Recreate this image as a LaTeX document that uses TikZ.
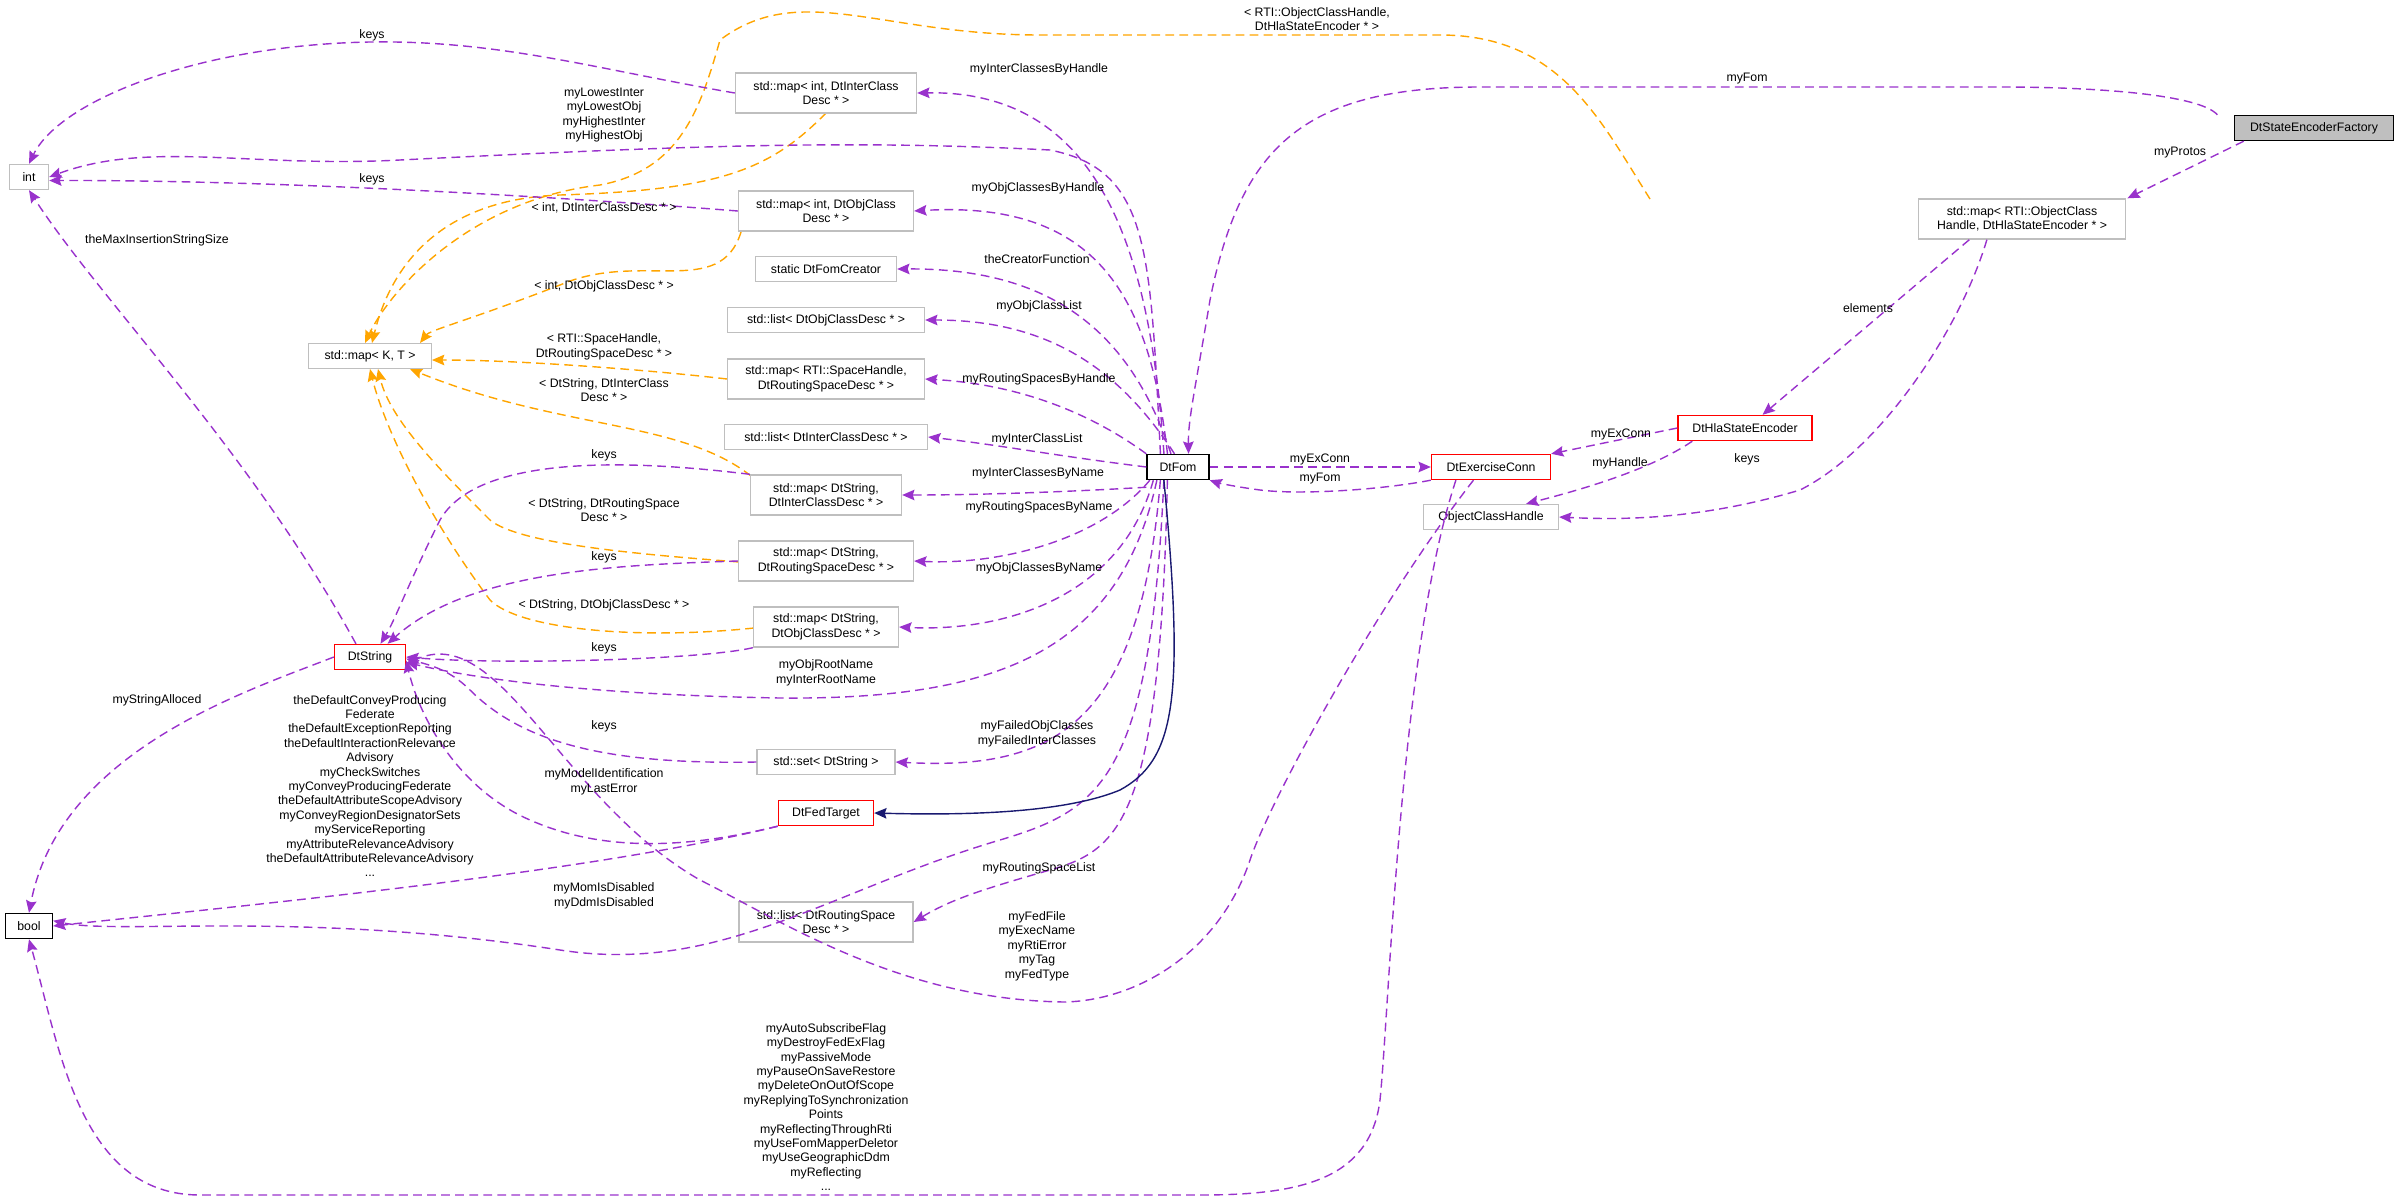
\documentclass[tikz,border=0pt]{standalone}
\usepackage{fontspec}
\setmainfont{Liberation Sans}
\usetikzlibrary{arrows.meta}
\definecolor{pur}{RGB}{153,50,204}
\definecolor{org}{RGB}{255,165,0}
\definecolor{nav}{RGB}{25,25,112}
\definecolor{bx}{RGB}{191,191,191}
\begin{document}
\begin{tikzpicture}[x=0.02cm,y=-0.02cm,
  every node/.style={font=\fontsize{7}{8.2}\selectfont},
  box/.style={draw=bx,line width=0.8pt,fill=white,minimum height=0.5cm,align=center,inner sep=1pt},
  rbox/.style={box,draw=red},
  kbox/.style={box,draw=black},
  lab/.style={align=center,inner sep=0pt},
  ar/.style={-{Stealth[length=7pt,width=6pt,inset=1pt]}},
  pe/.style={ar,draw=pur,line width=0.8pt,dash pattern=on 5pt off 3pt},
  oe/.style={ar,draw=org,line width=0.8pt,dash pattern=on 5pt off 3pt},
  ne/.style={ar,draw=nav,line width=0.8pt}]
\useasboundingbox (0,0) rectangle (2400,1200);
% orange template edges
\draw[oe] (826,113) .. controls (770,170) and (720,190) .. (560,195) .. controls (420,200) and (385,290) .. (372,343);
\draw[oe] (741,232) .. controls (720,300) and (640,250) .. (560,285) .. controls (470,320) and (430,330) .. (420,343);
\draw[oe] (727,379) .. controls (650,370) and (520,360) .. (432,360);
\draw[oe] (751,476) .. controls (680,420) and (560,430) .. (410,369);
\draw[oe] (739,562) .. controls (650,555) and (520,545) .. (490,520) .. controls (440,470) and (390,420) .. (378,369);
\draw[oe] (754,628) .. controls (640,640) and (520,630) .. (490,600) .. controls (430,520) and (385,430) .. (370,369);
\draw[oe] (1650,199) .. controls (1600,120) and (1560,35) .. (1440,35) -- (1040,35) .. controls (880,35) and (800,-20) .. (720,40) .. controls (700,110) and (680,170) .. (600,185) .. controls (470,200) and (390,290) .. (365,343);
% nodes
\node[box,minimum width=0.78cm] (int) at (29,177) {int};
\node[box,minimum width=3.62cm,minimum height=0.8cm] (mih) at (826,93) {std::map< int, DtInterClass\\Desc * >};
\node[box,minimum width=3.5cm,minimum height=0.8cm] (moh) at (826,211) {std::map< int, DtObjClass\\Desc * >};
\node[box,minimum width=2.82cm] (cre) at (826,269) {static DtFomCreator};
\node[box,minimum width=3.94cm] (lo) at (826,320) {std::list< DtObjClassDesc * >};
\node[box,minimum width=3.94cm,minimum height=0.8cm] (mrs) at (826,379) {std::map< RTI::SpaceHandle,\\DtRoutingSpaceDesc * >};
\node[box,minimum width=4.06cm] (li) at (826,437) {std::list< DtInterClassDesc * >};
\node[box,minimum width=3.02cm,minimum height=0.8cm] (msi) at (826,495) {std::map< DtString,\\DtInterClassDesc * >};
\node[box,minimum width=3.5cm,minimum height=0.8cm] (msr) at (826,561) {std::map< DtString,\\DtRoutingSpaceDesc * >};
\node[box,minimum width=2.9cm,minimum height=0.8cm] (mso) at (826,627) {std::map< DtString,\\DtObjClassDesc * >};
\node[box,minimum width=2.46cm] (mkt) at (370,356) {std::map< K, T >};
\node[rbox,minimum width=1.42cm] (str) at (370,657) {DtString};
\node[box,minimum width=2.76cm] (set) at (826,762) {std::set< DtString >};
\node[rbox,minimum width=1.9cm] (fed) at (826,813) {DtFedTarget};
\node[box,minimum width=3.48cm,minimum height=0.8cm] (lr) at (826,922) {std::list< DtRoutingSpace\\Desc * >};
\node[kbox,minimum width=0.94cm] (bool) at (29,926) {bool};
\node[kbox,minimum width=1.24cm] (fom) at (1178,467) {DtFom};
\node[rbox,minimum width=2.38cm] (exc) at (1491,467) {DtExerciseConn};
\node[rbox,minimum width=2.68cm] (hse) at (1745,428) {DtHlaStateEncoder};
\node[box,minimum width=2.7cm] (och) at (1491,517) {ObjectClassHandle};
\node[box,minimum width=4.14cm,minimum height=0.8cm] (moc) at (2022,219) {std::map< RTI::ObjectClass\\Handle, DtHlaStateEncoder * >};
\node[kbox,fill=bx,minimum width=3.18cm] (fac) at (2314,128) {DtStateEncoderFactory};
% purple edges
\draw[pe] (mih.west) .. controls (600,70) and (500,40) .. (370,42) .. controls (200,45) and (60,100) .. (int.north);
\draw[pe] ([xshift=-10pt]fom.north) .. controls (1150,250) and (1150,170) .. (1050,150) .. controls (850,140) and (700,145) .. (400,160) .. controls (250,168) and (150,140) .. (int.east);
\draw[pe] ([xshift=-8pt]fom.north) .. controls (1150,250) and (1100,90) .. (mih.east);
\draw[pe] (moh.west) .. controls (600,200) and (300,180) .. ([yshift=-2pt]int.east);
\draw[pe] ([xshift=-6pt]fom.north) .. controls (1150,300) and (1100,200) .. (moh.east);
\draw[pe] ([xshift=-8pt]str.north) .. controls (250,450) and (100,300) .. (int.south);
\draw[pe] ([xshift=-4pt]fom.north) .. controls (1130,330) and (1050,268) .. (cre.east);
\draw[pe] ([xshift=-2pt]fom.north) .. controls (1120,370) and (1050,320) .. (lo.east);
\draw[pe] (fom.north west) .. controls (1100,420) and (1030,385) .. (mrs.east);
\draw[pe] (fom.west) .. controls (1050,455) and (1000,445) .. (li.east);
\draw[pe] ([yshift=-4pt]fom.south west) .. controls (1100,490) and (1000,495) .. (msi.east);
\draw[pe] ([xshift=2pt]fom.south west) .. controls (1100,540) and (1000,565) .. (msr.east);
\draw[pe] ([xshift=4pt]fom.south west) .. controls (1120,600) and (1000,632) .. (mso.east);
\draw[pe] ([xshift=6pt]fom.south west) .. controls (1120,650) and (1000,700) .. (780,698) .. controls (600,695) and (480,680) .. ([yshift=-3pt]str.east);
\draw[pe] ([xshift=8pt]fom.south west) .. controls (1140,730) and (1050,770) .. (set.east);
\draw[pe] ([xshift=12pt]fom.south west) .. controls (1160,820) and (1120,850) .. (1050,870) .. controls (980,890) and (950,900) .. (lr.east);
\draw[pe] ([xshift=10pt]fom.south west) .. controls (1150,780) and (1100,810) .. (1000,840) .. controls (830,890) and (720,975) .. (560,950) .. controls (300,910) and (120,935) .. ([yshift=3pt]bool.east);
\draw[pe] (msi.north west) .. controls (650,462) and (480,450) .. (440,520) .. controls (410,580) and (395,620) .. ([xshift=6pt]str.north);
\draw[pe] (msr.west) .. controls (620,565) and (470,570) .. ([xshift=10pt]str.north);
\draw[pe] (mso.south west) .. controls (700,660) and (500,665) .. (str.east);
\draw[pe] (set.west) .. controls (600,765) and (520,740) .. (470,690) .. controls (450,670) and (430,665) .. ([yshift=-1pt]str.east);
\draw[pe] (fed.south west) .. controls (720,840) and (620,860) .. (530,820) .. controls (460,790) and (420,720) .. ([yshift=-2pt]str.east);
\draw[pe] (str.west) .. controls (250,690) and (60,750) .. (bool.north);
\draw[pe] (fed.south west) .. controls (600,870) and (300,900) .. (bool.east);
\draw[pe] ([xshift=-10pt]exc.south) .. controls (1380,600) and (1270,800) .. (1250,860) .. controls (1220,950) and (1140,1000) .. (1065,1002) .. controls (900,1000) and (780,920) .. (700,880) .. controls (560,800) and (500,620) .. ([yshift=-4pt]str.east);
\draw[pe] ([xshift=-20pt]exc.south) .. controls (1400,650) and (1390,1000) .. (1380,1100) .. controls (1370,1180) and (1300,1195) .. (1200,1195) -- (200,1195) .. controls (80,1195) and (60,1050) .. (bool.south);
\draw[pe] (exc.south west) .. controls (1380,490) and (1300,495) .. (1260,490) .. controls (1230,486) and (1215,482) .. (fom.south east);
\draw[pe] (fom.east) -- (exc.west);
\draw[pe] (hse.west) -- (exc.north east);
\draw[pe] ([xshift=-30pt]hse.south) .. controls (1650,470) and (1580,490) .. ([xshift=20pt]och.north);
\draw[pe] ([xshift=-20pt]moc.south) .. controls (1960,330) and (1880,450) .. (1800,490) .. controls (1700,520) and (1620,520) .. (och.east);
\draw[pe] ([xshift=-30pt]moc.south) -- ([xshift=10pt]hse.north);
\draw[pe] ([xshift=-40pt]fac.south) -- ([xshift=60pt]moc.north);
\draw[pe] ([xshift=-55pt]fac.north) .. controls (2200,95) and (2100,87) .. (2000,87) -- (1480,87) .. controls (1300,87) and (1240,150) .. (1210,300) .. controls (1195,390) and (1188,420) .. ([xshift=6pt]fom.north);
% inheritance
\draw[ne] ([xshift=10pt]fom.south west) .. controls (1185,700) and (1175,760) .. (1120,790) .. controls (1060,815) and (950,815) .. (fed.east);
% labels
\node[lab] (l1) at (372,35) {keys};
\node[lab] (l2) at (604,115) {myLowestInter\\myLowestObj\\myHighestInter\\myHighestObj};
\node[lab] (l3) at (1039,69) {myInterClassesByHandle};
\node[lab] (l4) at (372,179) {keys};
\node[lab] (l5) at (604,208) {< int, DtInterClassDesc * >};
\node[lab] (l6) at (1038,188) {myObjClassesByHandle};
\node[lab] (l7) at (157,240) {theMaxInsertionStringSize};
\node[lab] (l8) at (1037,259) {theCreatorFunction};
\node[lab] (l9) at (604,286) {< int, DtObjClassDesc * >};
\node[lab] (l10) at (1039,306) {myObjClassList};
\node[lab] (l11) at (604,347) {< RTI::SpaceHandle,\\DtRoutingSpaceDesc * >};
\node[lab] (l12) at (1039,379) {myRoutingSpacesByHandle};
\node[lab] (l13) at (604,390) {< DtString, DtInterClass\\Desc * >};
\node[lab] (l14) at (1037,439) {myInterClassList};
\node[lab] (l15) at (604,455) {keys};
\node[lab] (l16) at (1038,473) {myInterClassesByName};
\node[lab] (l17) at (604,510) {< DtString, DtRoutingSpace\\Desc * >};
\node[lab] (l18) at (1039,507) {myRoutingSpacesByName};
\node[lab] (l19) at (604,557) {keys};
\node[lab] (l20) at (1039,568) {myObjClassesByName};
\node[lab] (l21) at (604,605) {< DtString, DtObjClassDesc * >};
\node[lab] (l22) at (604,648) {keys};
\node[lab] (l23) at (826,673) {myObjRootName\\myInterRootName};
\node[lab] (l24) at (157,700) {myStringAlloced};
\node[lab] (l25) at (370,786) {theDefaultConveyProducing\\Federate\\theDefaultExceptionReporting\\theDefaultInteractionRelevance\\Advisory\\myCheckSwitches\\myConveyProducingFederate\\theDefaultAttributeScopeAdvisory\\myConveyRegionDesignatorSets\\myServiceReporting\\myAttributeRelevanceAdvisory\\theDefaultAttributeRelevanceAdvisory\\...};
\node[lab] (l26) at (604,726) {keys};
\node[lab] (l27) at (1037,734) {myFailedObjClasses\\myFailedInterClasses};
\node[lab] (l28) at (604,782) {myModelIdentification\\myLastError};
\node[lab] (l29) at (604,896) {myMomIsDisabled\\myDdmIsDisabled};
\node[lab] (l30) at (1039,868) {myRoutingSpaceList};
\node[lab] (l31) at (1037,946) {myFedFile\\myExecName\\myRtiError\\myTag\\myFedType};
\node[lab] (l32) at (826,1107) {myAutoSubscribeFlag\\myDestroyFedExFlag\\myPassiveMode\\myPauseOnSaveRestore\\myDeleteOnOutOfScope\\myReplyingToSynchronization\\Points\\myReflectingThroughRti\\myUseFomMapperDeletor\\myUseGeographicDdm\\myReflecting\\...};
\node[lab] (l33) at (1317,19) {< RTI::ObjectClassHandle,\\DtHlaStateEncoder * >};
\node[lab] (l34) at (1747,79) {myFom};
\node[lab] (l35) at (2180,153) {myProtos};
\node[lab] (l36) at (1868,308) {elements};
\node[lab] (l37) at (1621,434) {myExConn};
\node[lab] (l38) at (1320,459) {myExConn};
\node[lab] (l39) at (1320,479) {myFom};
\node[lab] (l40) at (1620,463) {myHandle};
\node[lab] (l41) at (1747,459) {keys};
\end{tikzpicture}
\end{document}
